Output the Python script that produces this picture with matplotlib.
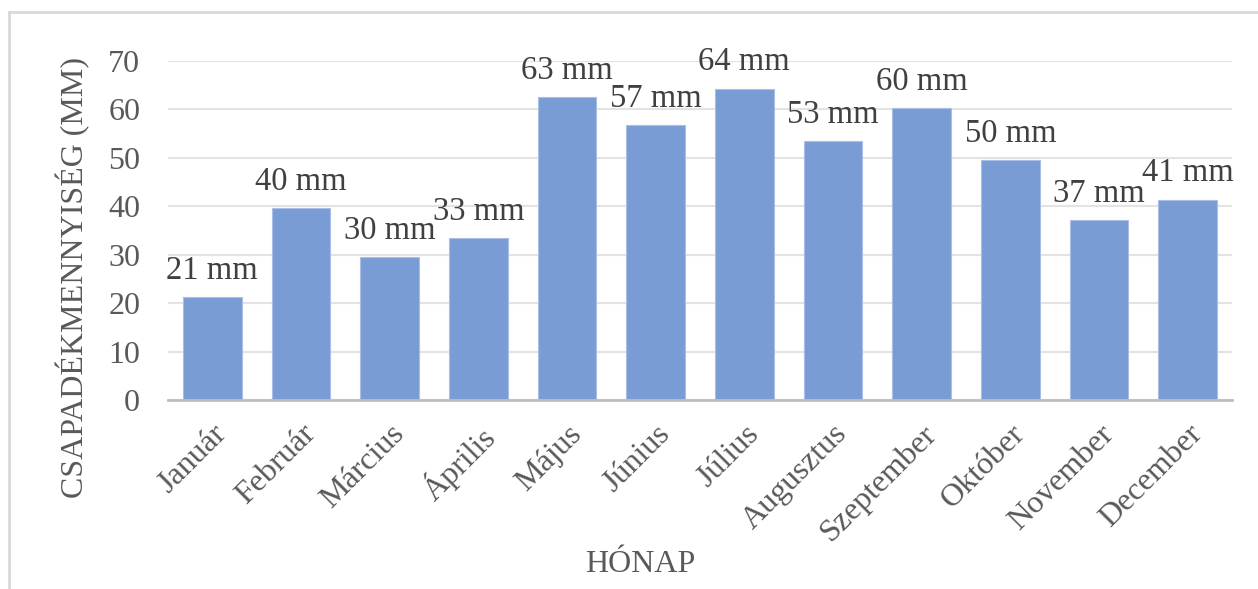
import numpy as np
import matplotlib
matplotlib.use("Agg")
import matplotlib.pyplot as plt
from matplotlib.lines import Line2D

months = ["Január", "Február", "Március", "Április", "Május", "Június",
          "Július", "Augusztus", "Szeptember", "Október", "November", "December"]
rain_mm = [21.3, 39.6, 29.5, 33.4, 62.6, 56.8, 64.3, 53.4, 60.3, 49.6, 37.1, 41.4]
yticks = [0, 10, 20, 30, 40, 50, 60, 70]

plt.rcParams["font.family"] = ["Liberation Serif", "DejaVu Serif"]
txt = "#595959"

W, H = 1258, 589
fig = plt.figure(figsize=(W / 100, H / 100), dpi=100)
ax = fig.add_axes([168 / W, 1 - 400 / H, (1232 - 168) / W, (400 - 61) / H])

x = np.arange(len(months))
bars = ax.bar(x, rain_mm, width=0.66, color="#7a9cd5", edgecolor="#a9bfe6",
              linewidth=0.8, zorder=3)

for xi, v in zip(x, rain_mm):
    ax.annotate(f"{v:.0f} mm", (xi, v), xytext=(0, 8), textcoords="offset points",
                ha="center", va="bottom", fontsize=23.5, color="#404040", zorder=4)

ax.set_xlim(-0.5, len(months) - 0.5)
ax.set_ylim(0, 70)
ax.set_yticks(yticks)
ax.set_yticklabels([str(t) for t in yticks], fontsize=23, color=txt)
ax.set_xticks(x)
ax.set_xticklabels(months, rotation=45, ha="right", rotation_mode="anchor",
                   fontsize=23, color=txt)
ax.tick_params(axis="both", length=0)
ax.tick_params(axis="y", pad=20)
ax.tick_params(axis="x", pad=14)

ax.yaxis.grid(True, color="#e3e3e3", linewidth=1.5, zorder=0)
for s in ["top", "right", "left"]:
    ax.spines[s].set_visible(False)
ax.spines["bottom"].set_color("#bfbfbf")
ax.spines["bottom"].set_linewidth(2)
ax.spines["bottom"].set_zorder(5)

fig.text(73 / W, 1 - 277 / H, "CSAPADÉKMENNYISÉG (MM)", rotation=90,
         ha="center", va="center", fontsize=23, color=txt)
fig.text(640 / W, 1 - 565 / H, "HÓNAP", ha="center", va="center",
         fontsize=23, color=txt)

# chart area border (top and left edges visible)
fig.add_artist(Line2D([9 / W, 1], [1 - 12 / H, 1 - 12 / H], transform=fig.transFigure,
                      color="#d9d9d9", linewidth=2))
fig.add_artist(Line2D([9 / W, 9 / W], [0, 1 - 12 / H], transform=fig.transFigure,
                      color="#d9d9d9", linewidth=2))

fig.savefig("out.png", dpi=100, facecolor="white")
